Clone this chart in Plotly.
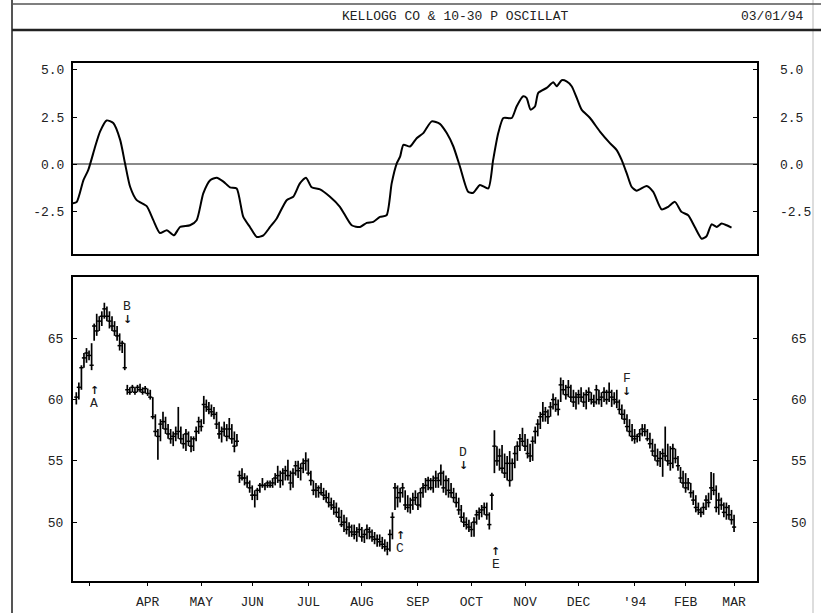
import plotly.graph_objects as go

# ---------------- data ----------------
# trading-day index (0 = first trading day of March 1993)
first_day = -5
high = [60.6, 61.4, 62.8, 63.8, 64.2,
        64.0, 64.6, 66.2, 67.0, 66.8, 67.2, 67.9, 67.6, 67.2, 66.8,
        66.4, 66.0, 65.4, 64.8, 64.6, 61.2, 61.0, 61.2, 61.0, 61.2,
        61.3, 61.0, 61.1, 60.9, 60.8, 60.2, 58.8, 57.6, 58.4, 59.0,
        58.6, 58.0, 57.6, 57.4, 57.8, 59.4, 57.8, 57.2, 57.6, 57.4,
        57.0, 57.0, 57.8, 58.6, 58.4, 60.3, 60.0, 59.8, 59.6, 59.4,
        59.0, 58.2, 57.8, 58.2, 58.0, 58.5, 58.0, 57.4, 57.2, 54.2,
        54.4, 54.0, 53.8, 53.4, 53.0, 52.6, 52.8, 53.2, 53.6, 53.2,
        53.4, 53.4, 53.6, 54.0, 54.6, 54.2, 54.4, 54.6, 55.1, 54.2,
        54.4, 55.0, 55.0, 54.8, 55.2, 55.7, 55.2, 54.2, 53.4, 53.2,
        53.0, 53.2, 52.8, 52.6, 52.4, 52.0, 51.8, 51.6, 51.2, 51.0,
        50.6, 50.4, 50.0, 49.8, 49.8, 49.6, 49.9, 49.6, 49.4, 49.8,
        49.6, 49.4, 49.2, 49.0, 49.0, 48.8, 48.6, 48.4, 49.4, 50.8,
        53.2, 53.0, 52.8, 53.2, 52.6, 52.2, 52.0, 52.4, 52.6, 52.4,
        52.8, 53.2, 53.6, 53.7, 53.6, 53.8, 54.2, 54.0, 54.7, 54.2,
        53.8, 53.6, 53.2, 52.8, 52.4, 52.0, 51.4, 50.8, 50.4, 50.2,
        50.0, 50.4, 51.0, 51.2, 51.4, 51.6, 51.6, 50.8, 52.4, 57.5,
        56.2, 56.0, 56.3, 55.6, 55.4, 55.8, 55.2, 56.2, 56.6, 57.2,
        57.7, 57.2, 56.8, 56.4, 57.0, 57.8, 58.4, 59.0, 59.8, 59.4,
        59.2, 59.8, 60.5, 60.2, 60.0, 61.8, 61.6, 61.2, 61.6, 61.2,
        60.8, 60.6, 60.8, 61.0, 60.6, 60.8, 61.0, 60.6, 60.4, 61.2,
        60.8, 60.6, 61.0, 60.8, 61.4, 60.8, 60.6, 60.8, 60.0, 59.6,
        59.2, 58.8, 58.4, 58.0, 57.6, 57.2, 57.6, 58.0, 58.0, 57.6,
        57.3, 56.8, 56.4, 56.0, 55.8, 56.0, 57.8, 56.4, 56.2, 56.4,
        56.0, 55.4, 54.5, 54.2, 54.0, 53.6, 53.2, 52.6, 52.2, 51.6,
        51.2, 51.6, 52.2, 52.4, 54.1, 54.0, 53.0, 52.4, 52.0, 51.6,
        51.6, 51.4, 51.0, 50.6]
low = [59.6, 60.0, 60.8, 62.6, 63.0,
       63.2, 62.4, 64.8, 65.2, 65.6, 66.0, 66.6, 66.4, 65.8, 65.6,
       65.2, 64.8, 64.0, 63.8, 62.4, 60.4, 60.4, 60.6, 60.4, 60.6,
       60.6, 60.4, 60.5, 60.3, 60.0, 58.4, 57.0, 55.1, 56.6, 57.6,
       57.2, 56.8, 56.4, 56.2, 56.6, 56.8, 56.4, 56.0, 55.8, 56.2,
       55.7, 55.8, 56.6, 57.2, 57.4, 58.0, 59.0, 58.8, 58.6, 58.4,
       57.6, 56.8, 56.5, 57.0, 56.6, 56.8, 56.4, 55.7, 56.2, 53.2,
       53.4, 53.0, 52.8, 52.4, 51.8, 51.2, 51.8, 52.4, 52.8, 52.6,
       52.8, 52.8, 52.8, 53.0, 53.2, 52.8, 53.0, 53.4, 53.4, 52.6,
       52.8, 53.8, 53.6, 53.4, 54.0, 54.2, 53.8, 53.0, 52.2, 52.0,
       52.0, 52.2, 51.8, 51.6, 51.2, 51.0, 50.6, 50.4, 50.0, 49.6,
       49.2, 49.0, 48.8, 48.8, 48.6, 48.4, 48.8, 48.4, 48.3, 48.6,
       48.6, 48.4, 48.2, 48.0, 48.0, 47.8, 47.6, 47.3, 47.6, 48.6,
       51.0, 51.2, 51.6, 52.0, 51.0, 50.8, 50.7, 51.0, 51.4, 51.0,
       51.2, 52.0, 52.4, 52.6, 52.6, 52.4, 52.8, 52.8, 53.0, 52.4,
       52.2, 52.0, 52.0, 51.6, 51.2, 50.6, 50.0, 49.6, 49.4, 49.2,
       48.8, 48.8, 49.8, 50.2, 50.4, 50.6, 50.2, 49.4, 51.0, 54.0,
       54.6, 54.2, 54.0, 53.6, 53.4, 52.9, 53.4, 54.4, 55.0, 55.8,
       56.2, 55.8, 55.2, 54.9, 55.0, 56.4, 57.0, 57.6, 58.2, 58.2,
       58.0, 58.6, 59.2, 59.0, 58.7, 59.8, 60.4, 60.0, 60.2, 59.8,
       59.4, 59.2, 59.6, 59.8, 59.4, 59.2, 59.8, 59.6, 59.4, 59.6,
       59.6, 59.4, 59.8, 59.6, 59.8, 59.4, 59.6, 59.3, 58.8, 58.4,
       58.0, 57.4, 57.0, 56.6, 56.4, 56.5, 56.6, 57.0, 57.0, 56.6,
       56.0, 55.4, 55.0, 54.6, 54.5, 53.7, 55.0, 54.6, 54.2, 54.4,
       54.8, 54.2, 53.2, 52.8, 52.4, 52.6, 52.0, 51.4, 50.8, 50.6,
       50.4, 50.6, 51.0, 51.2, 51.8, 52.2, 50.8, 50.6, 51.0, 50.4,
       50.2, 50.2, 49.8, 49.2]
close = [60.2, 61.0, 62.6, 63.4, 63.8,
         63.6, 62.8, 66.0, 65.6, 66.4, 66.8, 67.4, 66.8, 66.4, 66.0,
         65.6, 65.2, 64.4, 64.6, 62.6, 60.8, 60.6, 61.0, 60.6, 61.0,
         60.8, 60.6, 60.9, 60.5, 60.2, 58.6, 57.4, 57.0, 58.0, 58.2,
         57.6, 57.2, 56.8, 57.0, 57.2, 57.4, 56.8, 56.4, 57.2, 56.6,
         56.2, 56.8, 57.4, 58.2, 57.8, 59.6, 59.4, 59.2, 59.0, 58.8,
         58.0, 57.2, 57.4, 57.6, 57.0, 57.6, 56.8, 56.2, 56.6, 53.8,
         53.6, 53.6, 53.2, 52.8, 52.2, 52.2, 52.6, 53.0, 53.0, 53.0,
         53.2, 53.0, 53.2, 53.6, 53.8, 53.4, 54.0, 54.2, 53.8, 53.2,
         54.0, 54.6, 54.2, 54.4, 54.8, 55.0, 54.0, 53.4, 52.6, 52.6,
         52.8, 52.4, 52.2, 52.0, 51.6, 51.4, 51.2, 50.8, 50.4, 49.8,
         50.0, 49.4, 49.6, 49.2, 49.0, 49.2, 49.4, 48.8, 49.0, 49.4,
         49.2, 48.8, 48.6, 48.6, 48.4, 48.2, 48.0, 47.8, 49.0, 50.4,
         52.8, 52.0, 52.4, 52.8, 51.4, 51.2, 51.4, 51.8, 52.0, 51.4,
         52.4, 52.8, 53.0, 53.4, 52.8, 53.4, 53.6, 53.4, 54.0, 52.8,
         53.4, 52.6, 52.4, 52.0, 51.6, 51.0, 50.4, 50.0, 49.8, 49.6,
         49.4, 50.0, 50.6, 50.8, 51.0, 51.2, 50.6, 49.8, 52.2, 56.2,
         55.0, 55.4, 54.4, 54.0, 54.8, 53.4, 54.8, 55.6, 56.2, 56.8,
         56.6, 56.2, 55.6, 55.4, 56.6, 57.4, 58.0, 58.6, 58.8, 59.0,
         58.6, 59.4, 60.0, 59.6, 59.2, 61.2, 60.8, 60.4, 61.0, 60.2,
         59.8, 60.2, 60.4, 60.2, 59.8, 60.4, 60.6, 60.0, 59.8, 60.8,
         60.0, 60.2, 60.6, 60.0, 60.6, 60.2, 60.0, 59.8, 59.2, 58.8,
         58.4, 57.8, 57.4, 57.0, 56.8, 57.0, 57.2, 57.6, 57.4, 56.8,
         56.4, 55.8, 55.4, 55.0, 55.2, 55.6, 55.4, 55.0, 54.8, 56.0,
         55.2, 54.6, 53.6, 53.2, 52.8, 53.2, 52.4, 51.8, 51.2, 51.0,
         50.8, 51.2, 51.8, 51.6, 52.8, 52.6, 51.2, 51.8, 51.4, 50.8,
         51.2, 50.6, 50.2, 49.6]
days = list(range(first_day, first_day + len(close)))

# 10-30 price oscillator (read at trading-day positions)
osc_day = [-6.4, -4.8, -2.2, -0.3, 2.4, 4.3, 6.9, 9.5, 12.2, 14.1, 16.1, 18.7,
           22.6, 25.2, 27.8, 30.5, 33.3, 35.7, 39.6, 42.2, 44.8, 47.5, 50.1,
           52.7, 55.3, 57.9, 60.5, 63.1, 65.8, 68.4, 71.0, 73.6, 77.5, 80.1,
           82.7, 85.1, 87.3, 90.6, 94.5, 98.4, 103.0, 106.3, 108.9, 111.5,
           114.1, 116.7, 118.7, 120.7, 122.0, 123.3, 125.9, 128.5, 131.1,
           134.4, 137.6, 140.3, 142.9, 145.5, 148.7, 150.7, 153.3, 156.6,
           158.5, 160.5, 162.5, 165.8, 167.7, 170.3, 171.6, 173.2, 174.9,
           176.2, 179.5, 182.1, 183.4, 185.4, 187.3, 189.3, 191.3, 193.2,
           196.5, 200.4, 204.3, 206.9, 208.9, 210.9, 212.8, 214.8, 218.7,
           221.3, 224.6, 227.2, 229.8, 232.4, 235.0, 237.6, 240.3, 242.2,
           244.2, 246.2, 248.1, 250.1, 252.0]
osc_val = [-2.07, -1.99, -0.84, -0.30, 0.94, 1.73, 2.32, 2.18, 1.29, 0.05,
           -1.19, -1.90, -2.22, -2.96, -3.64, -3.49, -3.76, -3.32, -3.23,
           -2.96, -1.54, -0.84, -0.71, -0.92, -1.22, -1.28, -2.79, -3.32,
           -3.85, -3.76, -3.32, -2.87, -1.90, -1.72, -1.01, -0.71, -1.22,
           -1.33, -1.72, -2.25, -3.23, -3.32, -3.10, -3.05, -2.79, -2.70,
           -1.01, 0.05, 0.40, 1.03, 0.94, 1.38, 1.65, 2.27, 2.14, 1.65,
           0.94, -0.13, -1.46, -1.51, -1.10, -1.28, 0.23, 1.65, 2.45, 2.45,
           3.06, 3.60, 3.51, 2.89, 3.06, 3.78, 4.04, 4.34, 4.13, 4.45, 4.39,
           4.13, 3.51, 2.89, 2.45, 1.73, 1.12, 0.76, 0.23, -0.48, -1.19,
           -1.40, -1.15, -1.46, -2.39, -2.25, -1.99, -2.52, -2.70, -3.32,
           -3.94, -3.81, -3.18, -3.32, -3.14, -3.23, -3.35]

month_ticks = [0, 23, 44, 64, 86, 107, 129, 150, 171, 192, 214, 234, 253]
month_labels = ["", "APR", "MAY", "JUN", "JUL", "AUG", "SEP", "OCT", "NOV",
                "DEC", "'94", "FEB", "MAR"]

osc_ticks = [5.0, 2.5, 0.0, -2.5]
osc_tick_labels = ["5.0", "2.5", "0.0", "-2.5"]
price_ticks = [50, 55, 60, 65]

# signal markers: letter, day, price at arrow tip, arrow direction
sig_letter = ["A", "B", "C", "D", "E", "F"]
sig_day = [2.0, 14.9, 122.0, 146.7, 159.6, 211.0]
sig_price = [61.4, 65.8, 49.6, 53.9, 48.3, 60.0]
sig_dir = ["up", "down", "up", "down", "up", "down"]

title_text = "KELLOGG CO & 10-30 P OSCILLAT"
date_text = "03/01/94"

# ---------------- figure ----------------
W, H = 821, 613
FONT = "Liberation Mono, DejaVu Sans Mono, monospace"

def px(x):
    return x / W

def py(y):
    return 1 - y / H

fig = go.Figure()

# oscillator
fig.add_trace(go.Scatter(x=osc_day, y=osc_val, mode="lines",
                         line=dict(color="black", width=2, shape="spline", smoothing=0.6),
                         xaxis="x", yaxis="y", hoverinfo="skip"))
fig.add_trace(go.Scatter(x=osc_day, y=osc_val, mode="lines", line=dict(width=0),
                         opacity=0, xaxis="x", yaxis="y3", hoverinfo="skip"))

# price bars (high-low) built from the arrays
bx, by = [], []
for d, h, l in zip(days, high, low):
    bx += [d, d, None]
    by += [l, h, None]
fig.add_trace(go.Scatter(x=bx, y=by, mode="lines", line=dict(color="black", width=1.7),
                         xaxis="x2", yaxis="y2", hoverinfo="skip"))
fig.add_trace(go.Scatter(x=days, y=close, mode="markers",
                         marker=dict(symbol="line-ew", size=3, line=dict(color="black", width=1.5)),
                         xaxis="x2", yaxis="y2", hoverinfo="skip"))
fig.add_trace(go.Scatter(x=days, y=close, mode="markers", opacity=0,
                         marker=dict(size=1), xaxis="x2", yaxis="y4", hoverinfo="skip"))

xrange_ = [-6.3, 262]
xdom = [px(73), px(757)]
top_dom = [py(254), py(63)]
bot_dom = [py(581), py(277)]
osc_range = [-4.75, 5.36]
price_range = [45.2, 70.0]

axis_font = dict(family=FONT, size=13, color="#222")

fig.update_layout(
    width=W, height=H,
    margin=dict(l=0, r=0, t=0, b=0),
    paper_bgcolor="white", plot_bgcolor="white",
    showlegend=False,
    font=dict(family=FONT, size=13, color="#222"),
    xaxis=dict(domain=xdom, range=xrange_, showticklabels=False, ticks="",
               showgrid=False, zeroline=False, showline=True, mirror=True,
               linecolor="black", linewidth=2, anchor="y"),
    yaxis=dict(domain=top_dom, range=osc_range, tickvals=osc_ticks,
               ticktext=osc_tick_labels, ticks="inside", ticklen=4,
               tickcolor="black", tickfont=axis_font, showgrid=False,
               zeroline=True, zerolinecolor="#8a8a8a", zerolinewidth=2,
               showline=True, mirror=True, linecolor="black", linewidth=2,
               anchor="x", ticklabelstandoff=4),
    yaxis3=dict(overlaying="y", side="right", range=osc_range, tickvals=osc_ticks,
                ticktext=osc_tick_labels, ticks="inside", ticklen=4,
                tickcolor="black", tickfont=axis_font, showgrid=False,
                zeroline=False, showline=False, anchor="x",
                ticklabelstandoff=22),
    xaxis2=dict(domain=xdom, range=xrange_, tickvals=month_ticks,
                ticktext=month_labels, ticks="outside", ticklen=3,
                tickcolor="black", tickfont=axis_font, showgrid=False,
                zeroline=False, showline=True, mirror=True, linecolor="black",
                linewidth=2, anchor="y2", ticklabelstandoff=4),
    yaxis2=dict(domain=bot_dom, range=price_range, tickvals=price_ticks,
                ticks="inside", ticklen=4, tickcolor="black", tickfont=axis_font,
                showgrid=False, zeroline=False, showline=True, mirror=True,
                linecolor="black", linewidth=2, anchor="x2", ticklabelstandoff=5),
    yaxis4=dict(overlaying="y2", side="right", range=price_range, tickvals=price_ticks,
                ticks="inside", ticklen=4, tickcolor="black", tickfont=axis_font,
                showgrid=False, zeroline=False, showline=False, anchor="x2",
                ticklabelstandoff=33),
)

# frame of the printout
shapes = [
    dict(type="line", xref="paper", yref="paper", x0=px(12), x1=px(12), y0=0, y1=1,
         line=dict(color="#555", width=2)),
    dict(type="line", xref="paper", yref="paper", x0=px(813), x1=px(813), y0=0, y1=1,
         line=dict(color="#bbb", width=1)),
    dict(type="line", xref="paper", yref="paper", x0=px(12), x1=1, y0=py(4), y1=py(4),
         line=dict(color="#555", width=1.5)),
    dict(type="line", xref="paper", yref="paper", x0=px(12), x1=1, y0=py(30), y1=py(30),
         line=dict(color="#222", width=2.5)),
]
fig.update_layout(shapes=shapes)

annotations = [
    dict(text=title_text, x=px(455), y=py(17), xref="paper", yref="paper",
         showarrow=False, xanchor="center", yanchor="middle",
         font=dict(family=FONT, size=13, color="#222")),
    dict(text=date_text, x=px(806), y=py(17), xref="paper", yref="paper",
         showarrow=False, xanchor="right", yanchor="middle",
         font=dict(family=FONT, size=13, color="#222")),
]
for letter, d, p, direction in zip(sig_letter, sig_day, sig_price, sig_dir):
    if direction == "up":
        annotations.append(dict(text="<b>↑</b>", x=d, y=p, xref="x2", yref="y2", showarrow=False,
                                yanchor="top", font=dict(family="DejaVu Sans", size=11, color="#111")))
        annotations.append(dict(text=letter, x=d, y=p, xref="x2", yref="y2", showarrow=False,
                                yanchor="top", yshift=-12,
                                font=dict(family=FONT, size=13, color="#222")))
    else:
        annotations.append(dict(text="<b>↓</b>", x=d, y=p, xref="x2", yref="y2", showarrow=False,
                                yanchor="bottom", font=dict(family="DejaVu Sans", size=11, color="#111")))
        annotations.append(dict(text=letter, x=d, y=p, xref="x2", yref="y2", showarrow=False,
                                yanchor="bottom", yshift=12,
                                font=dict(family=FONT, size=13, color="#222")))
fig.update_layout(annotations=annotations)

fig.write_html("out.html",
               config={"displayModeBar": False, "staticPlot": True},
               post_script="document.body.style.margin='0px';"
                           "document.body.style.overflow='hidden';")
